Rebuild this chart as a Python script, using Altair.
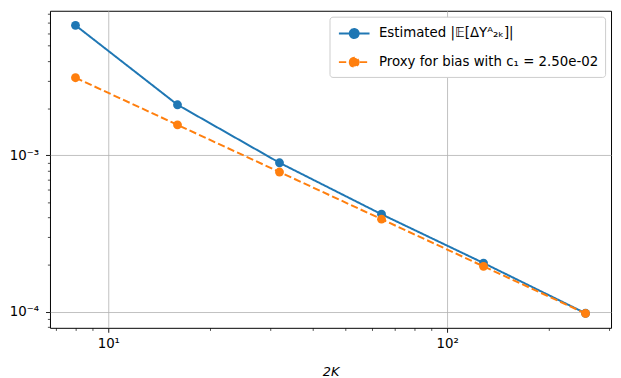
import math
import altair as alt
import pandas as pd

# ---------------- data ----------------
two_k = [8, 16, 32, 64, 128, 256]
estimated = [6.75e-3, 2.10e-3, 8.95e-4, 4.20e-4, 2.05e-4, 9.8e-5]
proxy = [3.125e-3, 1.5625e-3, 7.8125e-4, 3.90625e-4, 1.953e-4, 9.766e-5]

series_names = ["Estimated |𝔼[ΔYᴬ₂ₖ]|", "Proxy for bias with c₁ = 2.50e-02"]
series_colors = ["#1f77b4", "#ff7f0e"]
series_dashes = [[1, 0], [7.4, 3.2]]

x_major = [10, 100]
x_major_labels = ["10¹", "10²"]
x_minor = [7, 8, 9, 20, 30, 40, 50, 60, 70, 80, 90, 200, 300]
y_major = [1e-4, 1e-3]
y_major_labels = ["10⁻⁴", "10⁻³"]
y_minor = [8e-5, 9e-5, 2e-4, 3e-4, 4e-4, 5e-4, 6e-4, 7e-4, 8e-4, 9e-4,
           2e-3, 3e-3, 4e-3, 5e-3, 6e-3, 7e-3, 8e-3]

x_domain = [6.727, 304.4]
y_domain = [7.91e-5, 8.36e-3]

rows = []
for name, vals in zip(series_names, [estimated, proxy]):
    for xv, yv in zip(two_k, vals):
        rows.append({"x": xv, "y": yv, "series": name})
df = pd.DataFrame(rows)


def label_expr(values, labels):
    expr = "''"
    for v, lab in zip(values, labels):
        k = round(math.log10(v))
        expr = f"abs(log(datum.value)/LN10 - ({k})) < 0.01 ? '{lab}' : ({expr})"
    return expr


FONT = "DejaVu Sans"
xscale = alt.Scale(type="log", domain=x_domain, nice=False, zero=False)
yscale = alt.Scale(type="log", domain=y_domain, nice=False, zero=False)

common_axis = dict(domain=False, tickColor="black", tickWidth=0.9,
                   labelColor="black", labelFont=FONT, labelFontSize=13.5,
                   gridColor="#b0b0b0", gridWidth=0.8, gridOpacity=1)

x_major_axis = alt.Axis(values=x_major, labelExpr=label_expr(x_major, x_major_labels),
                        tickSize=4.5, grid=True, labelPadding=4, orient="bottom",
                        title="2K", titleFont=FONT, titleFontSize=13,
                        titleFontStyle="italic", titleFontWeight="normal",
                        titleColor="black", titlePadding=16, labelFlush=False,
                        **common_axis)
y_major_axis = alt.Axis(values=y_major, labelExpr=label_expr(y_major, y_major_labels),
                        tickSize=4.5, grid=True, labelPadding=7, orient="left",
                        title=None, labelFlush=False, **common_axis)
x_minor_axis = alt.Axis(values=x_minor, labels=False, tickSize=2.6, grid=False,
                        orient="bottom", title=None, domain=False, tickColor="black",
                        tickWidth=0.7)
y_minor_axis = alt.Axis(values=y_minor, labels=False, tickSize=2.6, grid=False,
                        orient="left", title=None, domain=False, tickColor="black",
                        tickWidth=0.7)

legend = alt.Legend(
    title=None, orient="top-right", offset=6, padding=6, rowPadding=9,
    fillColor="white", strokeColor="#cccccc", cornerRadius=3,
    labelFont=FONT, labelFontSize=13.5, labelColor="black", labelOffset=14,
    labelLimit=400, symbolOffset=8,
    symbolType="M-1.55,0L1.55,0M-0.45,0A0.45,0.45,0,1,1,0.45,0A0.45,0.45,0,1,1,-0.45,0Z",
    symbolSize=400, symbolStrokeWidth=2, symbolOpacity=1,
)

color_enc = alt.Color("series:N", scale=alt.Scale(domain=series_names, range=series_colors),
                      legend=legend)
fill_enc = alt.Fill("series:N", scale=alt.Scale(domain=series_names, range=series_colors),
                    legend=legend)
dash_enc = alt.StrokeDash("series:N", scale=alt.Scale(domain=series_names, range=series_dashes),
                          legend=legend)

# axis-carrying layers (invisible marks)
major_layer = alt.Chart(df).mark_point(opacity=0).encode(
    x=alt.X("x:Q", scale=xscale, axis=x_major_axis),
    y=alt.Y("y:Q", scale=yscale, axis=y_major_axis),
)
minor_layer = alt.Chart(df).mark_point(opacity=0).encode(
    x=alt.X("x:Q", scale=xscale, axis=x_minor_axis),
    y=alt.Y("y:Q", scale=yscale, axis=y_minor_axis),
)

layers = [major_layer, minor_layer]
for name in series_names:
    sub = alt.Chart(df).transform_filter(alt.datum.series == name)
    line = sub.mark_line(strokeWidth=2, clip=True).encode(
        x=alt.X("x:Q", scale=xscale, axis=None),
        y=alt.Y("y:Q", scale=yscale, axis=None),
        color=color_enc,
        strokeDash=dash_enc,
    )
    pts = sub.mark_point(filled=True, size=80, opacity=1, strokeWidth=0).encode(
        x=alt.X("x:Q", scale=xscale, axis=None),
        y=alt.Y("y:Q", scale=yscale, axis=None),
        fill=fill_enc,
        color=color_enc,
    )
    layers += [line, pts]

chart = alt.layer(*layers).resolve_axis(x="independent", y="independent").properties(
    width=568, height=321,
    background="white",
    autosize=alt.AutoSizeParams(type="none"),
    padding={"left": 42.5, "top": 0.5, "right": 2, "bottom": 49},
).configure_view(stroke="black", strokeWidth=1)

chart.save("out.html", embed_options={"renderer": "svg", "actions": False})
